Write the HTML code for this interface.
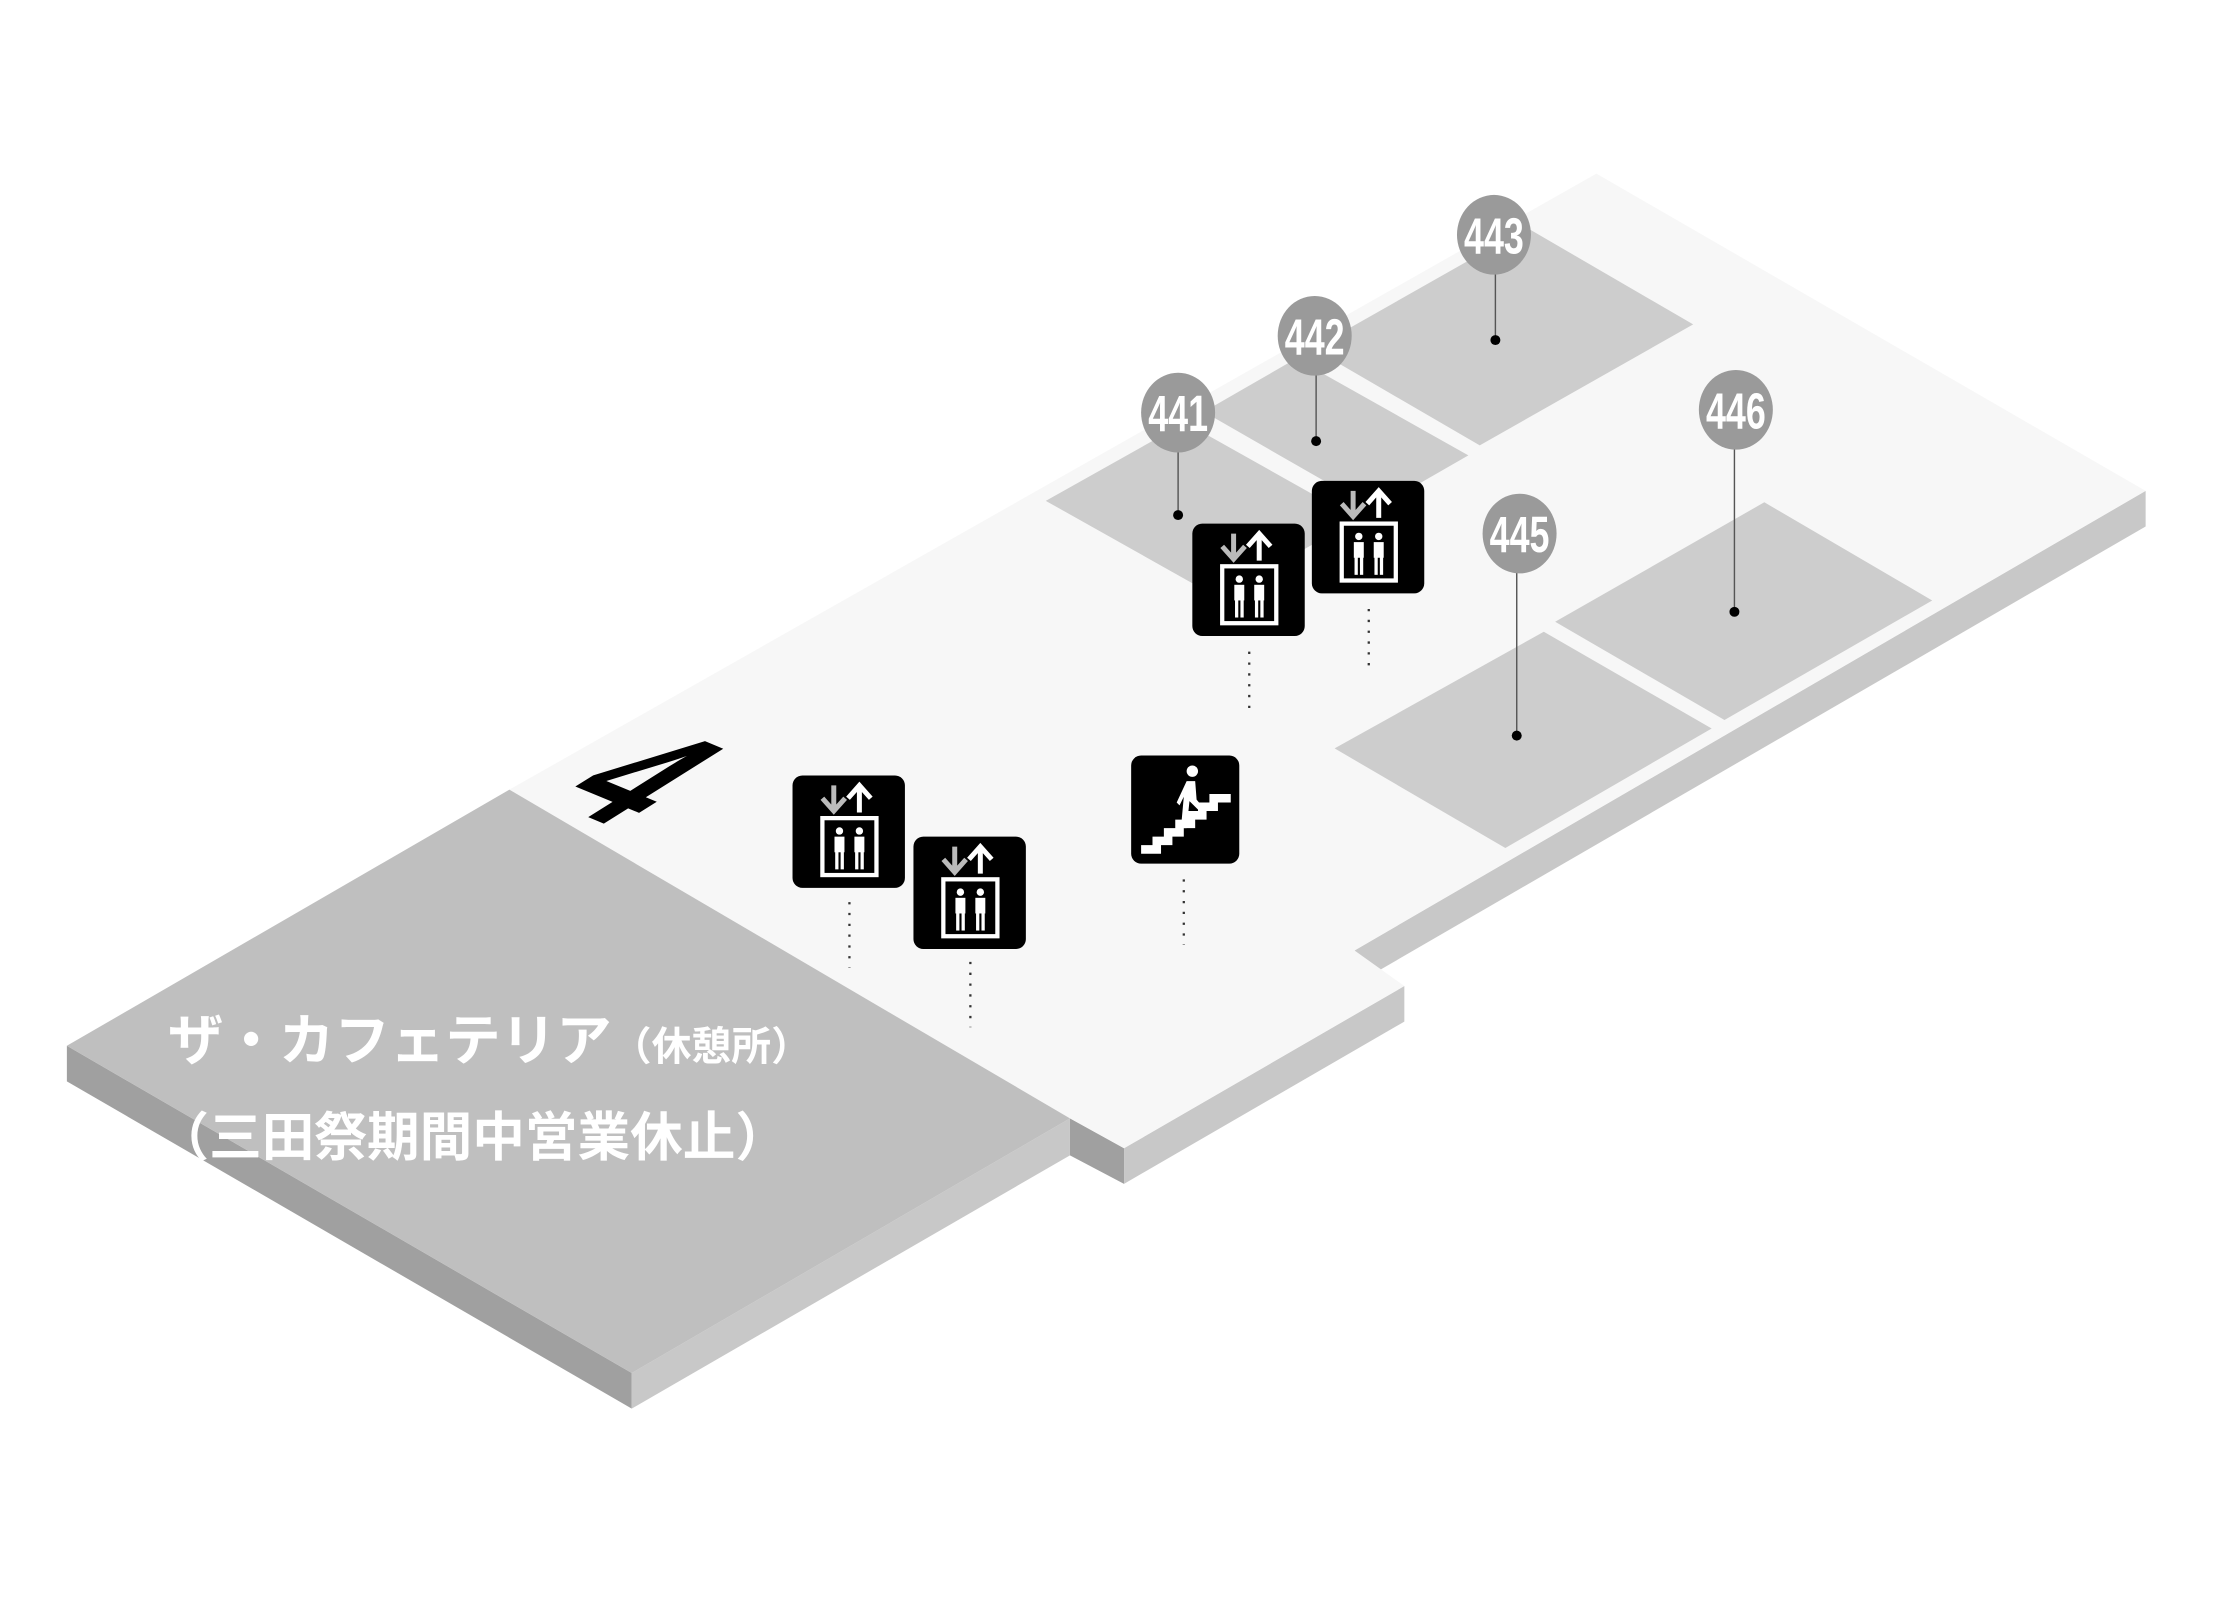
<!DOCTYPE html>
<html><head><meta charset="utf-8"><style>
html,body{margin:0;padding:0;background:#fff;}
svg{display:block}
.n{font-family:"Liberation Sans Narrow","Liberation Sans",sans-serif;font-weight:bold;fill:#fff;font-size:36px}
.j{font-family:"Liberation Sans","Noto Sans CJK JP",sans-serif;font-weight:bold;fill:#fff}
</style></head><body>
<svg width="2231" height="1600" viewBox="0 0 1568 1124.5" preserveAspectRatio="none" xmlns="http://www.w3.org/2000/svg">
<rect width="1568" height="1125" fill="#fff"/>
<polygon points="1508,345 1508,370 952,692 952,668" fill="#c8c8c8"/>
<polygon points="752,786 790,807 790,832 752,812" fill="#a0a0a0"/>
<polygon points="790,807 987,693 987,718 790,832" fill="#c8c8c8"/>
<polygon points="358,555 1122,122 1508,345 952,668 987,693 790,807 752,786" fill="#f7f7f7"/>
<polygon points="47,735 444,965 444,990 47,760" fill="#a0a0a0"/>
<polygon points="444,965 752,786 752,812 444,990" fill="#c8c8c8"/>
<polygon points="47,735 358,555 752,786 444,965" fill="#bfbfbf"/>
<g fill="#cdcdcd">
<polygon points="1073,160 1190,228 1040,313 923,245"/>
<polygon points="911,252 1032,320 966,358 845,290"/>
<polygon points="735,352 833,297 954,365 856,420"/>
<polygon points="1085,444 1203,512 1058,596 938,526"/>
<polygon points="1240,353 1358,422 1212,506 1093,437"/>
</g>
<g stroke="#f7f7f7" stroke-width="7">
<line x1="840" y1="290" x2="962" y2="360"/>
</g>
<g stroke="#555" stroke-width="1">
<line x1="828" y1="300" x2="828" y2="362"/>
<line x1="925" y1="250" x2="925" y2="310"/>
<line x1="1051" y1="180" x2="1051" y2="239"/>
<line x1="1219" y1="300" x2="1219" y2="430"/>
<line x1="1066" y1="390" x2="1066" y2="517"/>
</g>
<g fill="#000">
<circle cx="828" cy="362" r="3.5"/><circle cx="925" cy="310" r="3.5"/><circle cx="1051" cy="239" r="3.5"/><circle cx="1219" cy="430" r="3.5"/><circle cx="1066" cy="517" r="3.5"/>
</g>
<g fill="#9a9a9a">
<ellipse cx="828" cy="290" rx="26" ry="28"/>
<ellipse cx="924" cy="236" rx="26" ry="28"/>
<ellipse cx="1050" cy="165" rx="26" ry="28"/>
<ellipse cx="1220" cy="288" rx="26" ry="28"/>
<ellipse cx="1068" cy="375" rx="26" ry="28"/>
</g>
<g class="n" text-anchor="middle">
<text x="828" y="303" transform="translate(828,0) scale(0.7,1) translate(-828,0)">441</text>
<text x="924" y="249" transform="translate(924,0) scale(0.7,1) translate(-924,0)">442</text>
<text x="1050" y="178" transform="translate(1050,0) scale(0.7,1) translate(-1050,0)">443</text>
<text x="1220" y="301" transform="translate(1220,0) scale(0.7,1) translate(-1220,0)">446</text>
<text x="1068" y="388" transform="translate(1068,0) scale(0.7,1) translate(-1068,0)">445</text>
</g>
<g stroke="#333" stroke-width="1.6" stroke-dasharray="1.6 6">
<line x1="597" y1="634" x2="597" y2="680"/>
<line x1="682" y1="676" x2="682" y2="722"/>
<line x1="878" y1="458" x2="878" y2="502"/>
<line x1="962" y1="428" x2="962" y2="472"/>
<line x1="832" y1="618" x2="832" y2="664"/>
</g>
<defs>
<g id="elev">
<rect x="0" y="0" width="79" height="79" rx="7" fill="#000"/>
<g stroke="#bbb" stroke-width="3.5" fill="none"><path d="M29,7 V24 M21,16 L29,25 L37,16"/></g>
<g stroke="#fff" stroke-width="3.5" fill="none"><path d="M47,26 V8 M39,16 L47,7 L55,16"/></g>
<rect x="21" y="30" width="38" height="40" fill="none" stroke="#fff" stroke-width="3"/>
<g fill="#fff"><circle cx="33" cy="39" r="2.6"/><circle cx="47" cy="39" r="2.6"/>
<rect x="29.5" y="43" width="7" height="11"/><rect x="43.5" y="43" width="7" height="11"/>
<rect x="30" y="53" width="2.3" height="13"/><rect x="33.8" y="53" width="2.3" height="13"/>
<rect x="44" y="53" width="2.3" height="13"/><rect x="47.8" y="53" width="2.3" height="13"/></g>
</g>
</defs>
<use href="#elev" x="557" y="545"/>
<use href="#elev" x="642" y="588"/>
<use href="#elev" x="838" y="368"/>
<use href="#elev" x="922" y="338"/>
<rect x="795" y="531" width="76" height="76" rx="7" fill="#000"/>
<polygon fill="#fff" points="802,600 802,594 810,594 810,588 818,588 818,582 826,582 826,576 834,576 834,570 842,570 842,564 850,564 850,558 865,558 865,564 856,564 856,570 848,570 848,576 840,576 840,582 832,582 832,588 824,588 824,594 816,594 816,600"/>
<circle cx="838" cy="542" r="4" fill="#fff"/>
<path d="M834,549 L840,549 L841,562 L846,568 L843,570 L836,563 L834,582 L830,582 L832,560 L829,566 L827,564 Z" fill="#fff"/>
<text x="0" y="0" font-family="Liberation Sans" font-weight="bold" font-size="100" fill="#000" transform="matrix(0.836,0.345,-1.22,0.765,386,563)">4</text>
<text class="j" x="118" y="745" font-size="39">ザ・カフェテリア<tspan font-size="28">（休憩所）</tspan></text>
<text class="j" x="110" y="812" font-size="37">（三田祭期間中営業休止）</text>
</svg>
</body></html>
